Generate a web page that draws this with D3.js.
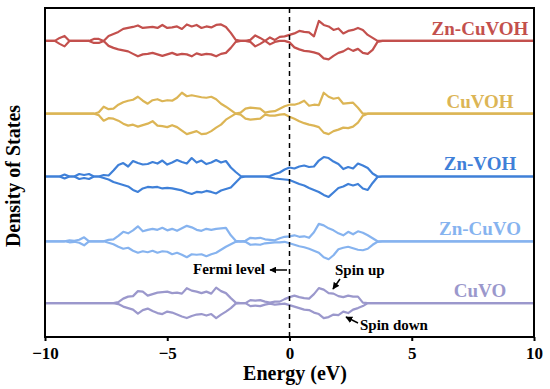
<!DOCTYPE html>
<html>
<head>
<meta charset="utf-8">
<script src="https://cdn.jsdelivr.net/npm/d3@7"></script>
<style>
  body { margin: 0; background: #fff; }
  text { font-family: "Liberation Serif", "Times New Roman", serif; font-weight: bold; }
</style>
</head>
<body>
<div id="chart"></div>
<script>
// energy grid (eV)
let energy = [-10, -9.6, -9.4, -9.2, -9.0, -8.8, -8.6, -8.4, -8.2, -8.0, -7.8,
  -7.6, -7.4, -7.2, -7.0, -6.8, -6.6, -6.4, -6.2, -6.0, -5.8,
  -5.6, -5.4, -5.2, -5.0, -4.8, -4.6, -4.4, -4.2, -4.0, -3.8,
  -3.6, -3.4, -3.2, -3.0, -2.8, -2.6, -2.4, -2.2, -2.0, -1.8,
  -1.6, -1.4, -1.2, -1.0, -0.8, -0.6, -0.4, -0.2, 0.0, 0.2,
  0.4, 0.6, 0.8, 1.0, 1.2, 1.4, 1.6, 1.8, 2.0, 2.2,
  2.4, 2.6, 2.8, 3.0, 3.2, 3.4, 3.6, 3.8, 10];

let samples = ["Zn-CuVOH", "CuVOH", "Zn-VOH", "Zn-CuVO", "CuVO"];
let offsets = [29.7, 22.4, 16.1, 9.6, 3.4];
let colors = ["#c3504d", "#dcb555", "#3f80d8", "#86b3ef", "#9b98cc"];
let xTicks = [-10, -5, 0, 5, 10];

let znCuVOHUp = [0,
  0, 0.3, 0.5, 0, 0, 0, 0, 0, 0.2, 0.2,
  0, 0.5, 0.7, 0.9, 1.2, 1.3, 1.4, 1.55, 1.3, 1.35,
  1.4, 1.3, 1.6, 1.3, 1.35, 1.45, 1.2, 1.65, 1.45, 1.6,
  1.3, 1.45, 1.35, 1.6, 1.65, 1.4, 0.8, 0.1, 0, 0,
  0.1, 0.55, 0.3, 0, 0.35, 0.1, 0.4, 0.45, 0.6, 0.75,
  1.0, 0.9, 0.85, 0.45, 2.0, 1.6, 1.45, 1.1, 1.25, 0.75,
  1.0, 1.1, 1.3, 1.1, 0.6, 0.3, 0, 0, 0];
let znCuVOHDown = [0,
  0, 0.3, 0.55, 0, 0, 0, 0, 0, 0.2, 0.2,
  0, 0.5, 0.7, 0.85, 0.95, 1.05, 1.3, 1.55, 1.35, 1.3,
  1.2, 1.35, 1.5, 1.35, 1.2, 1.4, 1.3, 1.35, 1.55, 1.25,
  1.4, 1.3, 1.35, 1.55, 1.3, 1.2, 0.7, 0.1, 0, 0,
  0.1, 0.55, 0.3, 0, 0.35, 0.1, 0, 0, 0.15, 0.65,
  0.85, 1.0, 1.05, 1.15, 1.3, 1.75, 1.85, 1.5, 1.2, 1.05,
  0.75, 1.0, 0.8, 1.2, 1.3, 0.9, 0.1, 0, 0];

let cuVOHUp = [0,
  0, 0, 0, 0, 0, 0, 0, 0, 0, 0.15,
  0.7, 0.45, 0.5, 0.9, 1.15, 1.3, 1.4, 1.7, 1.3, 1.0,
  1.35, 1.45, 1.25, 1.35, 1.3, 1.6, 2.1, 1.75, 1.85, 1.75,
  1.65, 1.6, 1.7, 1.45, 1.0, 0.7, 0.35, 0, 0.1, 0.5,
  0.6, 0.55, 0.5, 0.1, 0.2, 0.25, 0.5, 0.75, 0.9, 0.9,
  1.05, 1.3, 0.8, 0.9, 0.85, 2.1, 1.7, 1.5, 1.6, 1.0,
  1.05, 1.1, 0.6, 0, 0, 0, 0, 0, 0];
let cuVOHDown = [0,
  0, 0, 0, 0, 0, 0, 0, 0, 0, 0.15,
  0.7, 0.45, 0.5, 0.7, 1.0, 1.2, 1.1, 1.3, 1.15, 1.0,
  0.75, 1.2, 1.25, 1.35, 1.15, 1.35, 1.7, 2.05, 1.9, 1.75,
  2.05, 2.0, 1.75, 1.4, 1.1, 0.6, 0.3, 0, 0.1, 0.5,
  0.6, 0.55, 0.5, 0.1, 0.2, 0.2, 0.1, 0.05, 0.3, 0.5,
  0.75, 0.95, 1.1, 1.2, 1.35, 1.9, 2.05, 1.75, 1.6, 1.4,
  1.45, 1.3, 0.9, 0.2, 0, 0, 0, 0, 0];

let znVOHUp = [0,
  0, 0, 0.2, 0, 0, 0.25, 0.15, 0.25, 0, 0,
  0.15, 0.1, 0.6, 1.15, 1.35, 1.0, 1.55, 1.35, 1.2, 1.25,
  1.45, 1.3, 1.6, 1.2, 1.4, 1.65, 1.45, 1.3, 1.85, 1.4,
  1.6, 1.25, 1.4, 1.65, 1.4, 1.55, 0.9, 0.45, 0.05, 0,
  0, 0, 0, 0, 0.05, 0.25, 0.4, 0.7, 0.9, 0.8,
  1.0, 1.1, 0.95, 1.0, 1.6, 1.95, 1.85, 1.5, 1.25, 0.75,
  0.95, 0.8, 1.3, 1.1, 0.85, 0.3, 0, 0, 0];
let znVOHDown = [0,
  0, 0, 0.2, 0, 0, 0.25, 0.15, 0.25, 0, 0,
  0.15, 0.3, 0.55, 0.7, 0.85, 1.0, 1.35, 1.55, 1.2, 1.05,
  1.1, 1.05, 1.2, 1.15, 1.2, 1.3, 1.4, 1.6, 1.75, 1.55,
  1.6, 1.45, 1.55, 1.7, 1.4, 1.25, 1.1, 0.6, 0.1, 0,
  0, 0, 0, 0, 0.1, 0.2, 0.25, 0.3, 0.35, 0.55,
  0.75, 0.9, 1.15, 1.35, 1.55, 1.85, 2.05, 1.6, 1.15, 1.0,
  0.75, 0.9, 0.75, 1.2, 1.35, 0.65, 0.05, 0, 0];

let znCuVOUp = [0,
  0, 0, 0, 0.1, 0.05, 0.15, 0.4, 0, 0, 0,
  0, 0.15, 0.2, 0.55, 0.95, 0.8, 1.1, 1.5, 1.0, 1.15,
  1.25, 1.15, 1.35, 1.1, 1.25, 1.05, 1.3, 1.55, 1.4, 1.15,
  1.05, 1.25, 1.15, 1.25, 1.3, 1.35, 0.6, 0.05, 0, 0.05,
  0.35, 0.3, 0.35, 0.2, 0.15, 0.1, 0.3, 0.45, 0.5, 0.6,
  0.45, 0.5, 0.35, 0.9, 1.75, 1.6, 1.3, 1.1, 0.8, 0.6,
  0.95, 0.7, 1.0, 0.85, 0.6, 0.3, 0, 0, 0];
let znCuVODown = [0,
  0, 0, 0, 0.1, 0.05, 0.15, 0.4, 0, 0, 0,
  0, 0.15, 0.3, 0.55, 0.75, 0.65, 0.95, 1.15, 1.0, 1.1,
  0.95, 1.15, 1.0, 1.05, 1.3, 1.15, 1.35, 1.6, 1.3, 1.35,
  1.3, 1.5, 1.3, 1.15, 0.85, 0.55, 0.3, 0.05, 0, 0.05,
  0.35, 0.3, 0.35, 0.2, 0.15, 0.1, 0.1, 0.05, 0.2, 0.35,
  0.5, 0.6, 0.75, 0.95, 1.15, 1.6, 1.8, 1.4, 0.8, 0.65,
  0.55, 0.7, 0.85, 0.9, 0.75, 0.35, 0.05, 0, 0];

let cuVOUp = [0,
  0, 0, 0, 0, 0, 0, 0, 0, 0, 0,
  0, 0, 0, 0.1, 0.45, 0.65, 0.7, 1.2, 1.15, 0.75,
  0.9, 1.05, 1.1, 1.15, 1.0, 1.05, 0.95, 1.5, 1.25, 1.15,
  1.0, 1.15, 0.95, 1.55, 1.2, 1.0, 0.5, 0.05, 0, 0,
  0.3, 0.25, 0.3, 0.15, 0.05, 0.15, 0.15, 0.4, 0.6, 0.75,
  0.6, 0.5, 0.45, 0.9, 1.5, 1.35, 1.0, 0.95, 0.7, 0.6,
  0.75, 0.65, 0.65, 0.05, 0, 0, 0, 0, 0];
let cuVODown = [0,
  0, 0, 0, 0, 0, 0, 0, 0, 0, 0,
  0, 0, 0, 0.1, 0.35, 0.5, 0.65, 1.05, 0.7, 0.55,
  0.8, 1.0, 1.1, 0.85, 0.95, 1.15, 1.35, 1.5, 1.3, 1.15,
  1.1, 1.25, 1.1, 1.5, 1.15, 0.85, 0.5, 0.05, 0, 0,
  0.3, 0.25, 0.3, 0.15, 0.05, 0.15, 0.1, 0.05, 0.2, 0.35,
  0.5, 0.65, 0.7, 0.95, 1.1, 1.5, 1.4, 1.15, 1.2, 0.85,
  1.0, 0.65, 0.5, 0.3, 0, 0, 0, 0, 0];

let spinUp = [znCuVOHUp, cuVOHUp, znVOHUp, znCuVOUp, cuVOUp];
let spinDown = [znCuVOHDown, cuVOHDown, znVOHDown, znCuVODown, cuVODown];

let width = 550, height = 389;
let margin = {left: 45, right: 16, top: 8, bottom: 52};

let svg = d3.select('#chart').append('svg')
  .attr('width', width)
  .attr('height', height);

let x = d3.scaleLinear().domain([-10, 10]).range([margin.left, width - margin.right]);
let y = d3.scaleLinear().domain([0, 33]).range([height - margin.bottom, margin.top]);

let defs = svg.append('defs');
defs.append('marker')
  .attr('id', 'arrow')
  .attr('viewBox', '0 0 10 10')
  .attr('refX', 9).attr('refY', 5)
  .attr('markerWidth', 7).attr('markerHeight', 7)
  .attr('markerUnits', 'userSpaceOnUse')
  .attr('orient', 'auto')
  .append('path')
  .attr('d', 'M0,0 L10,5 L0,10 z')
  .attr('fill', '#000');

// curves
samples.forEach(function(name, i) {
  let g = svg.append('g').attr('class', 'dos');
  let up = d3.line()
    .x((d, j) => x(energy[j]))
    .y(d => y(offsets[i] + d));
  let down = d3.line()
    .x((d, j) => x(energy[j]))
    .y(d => y(offsets[i] - d));
  [down(spinDown[i]), up(spinUp[i])].forEach(function(p) {
    g.append('path')
      .attr('d', p)
      .attr('fill', 'none')
      .attr('stroke', colors[i])
      .attr('stroke-width', 2.2)
      .attr('stroke-linejoin', 'round');
  });
  g.append('text')
    .attr('x', 480)
    .attr('y', y(offsets[i]) - 6)
    .attr('text-anchor', 'middle')
    .style('font-size', '19px')
    .style('fill', colors[i])
    .text(name);
});

// Fermi level
svg.append('line')
  .attr('x1', x(0)).attr('x2', x(0))
  .attr('y1', margin.top).attr('y2', height - margin.bottom)
  .attr('stroke', '#000')
  .attr('stroke-width', 1.5)
  .attr('stroke-dasharray', '5,4');

// frame
svg.append('rect')
  .attr('x', margin.left).attr('y', margin.top)
  .attr('width', width - margin.left - margin.right)
  .attr('height', height - margin.top - margin.bottom)
  .attr('fill', 'none')
  .attr('stroke', '#000')
  .attr('stroke-width', 2);

let xAxis = svg.append('g')
  .attr('transform', `translate(0,${height - margin.bottom})`)
  .call(d3.axisBottom(x).tickValues(xTicks).tickSize(4).tickPadding(6)
    .tickFormat(d => d < 0 ? '\u2212' + Math.abs(d) : d));
xAxis.select('.domain').remove();
xAxis.selectAll('line').attr('stroke', '#000').attr('stroke-width', 2);
xAxis.selectAll('text')
  .style('font-size', '17px')
  .style('font-family', '"Liberation Serif", serif')
  .style('font-weight', 'bold')
  .attr('fill', '#000');

svg.append('text')
  .attr('x', 295).attr('y', 380)
  .attr('text-anchor', 'middle')
  .style('font-size', '20px')
  .text('Energy (eV)');

svg.append('text')
  .attr('transform', 'translate(20,176) rotate(-90)')
  .attr('text-anchor', 'middle')
  .style('font-size', '20px')
  .text('Density of States');

// annotations
svg.append('text')
  .attr('x', 229).attr('y', 274)
  .attr('text-anchor', 'middle')
  .style('font-size', '15px')
  .text('Fermi level');
svg.append('line')
  .attr('x1', 287).attr('y1', 270).attr('x2', 270).attr('y2', 270)
  .attr('stroke', '#000').attr('stroke-width', 1.5)
  .attr('marker-end', 'url(#arrow)');

svg.append('text')
  .attr('x', 335).attr('y', 275)
  .style('font-size', '15px')
  .text('Spin up');
svg.append('line')
  .attr('x1', 340).attr('y1', 279).attr('x2', 333).attr('y2', 289)
  .attr('stroke', '#000').attr('stroke-width', 1.5)
  .attr('marker-end', 'url(#arrow)');

svg.append('text')
  .attr('x', 360).attr('y', 330)
  .style('font-size', '15px')
  .text('Spin down');
svg.append('line')
  .attr('x1', 358).attr('y1', 323).attr('x2', 346).attr('y2', 317)
  .attr('stroke', '#000').attr('stroke-width', 1.5)
  .attr('marker-end', 'url(#arrow)');
</script>
</body>
</html>
